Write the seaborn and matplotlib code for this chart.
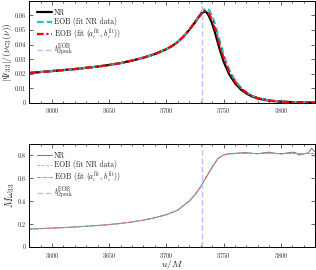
import numpy as np
import pandas as pd
import matplotlib
matplotlib.use("Agg")
import matplotlib.pyplot as plt
from matplotlib.ticker import MultipleLocator
import seaborn as sns

# --- amplitude panel (u/M, |Psi_33|/(nu c3)) ---
u_amp = [3580, 3600, 3620, 3640, 3650, 3660, 3670, 3680, 3690, 3700, 3705, 3710,
         3715, 3720, 3725, 3728, 3731, 3733, 3735, 3737, 3740, 3743, 3746, 3750,
         3755, 3760, 3765, 3770, 3775, 3780, 3790, 3800, 3815, 3830]
amp_nr = [0.0205, 0.0218, 0.0232, 0.0249, 0.0260, 0.0273, 0.0290, 0.0310, 0.0335, 0.0368,
          0.0390, 0.0418, 0.0455, 0.0500, 0.0552, 0.0585, 0.0615, 0.0626, 0.0622, 0.0600,
          0.0545, 0.0470, 0.0385, 0.0285, 0.0195, 0.0135, 0.0093, 0.0064, 0.0044, 0.0030,
          0.0015, 0.0008, 0.0004, 0.0002]
amp_eob_nr = [0.0205, 0.0218, 0.0232, 0.0249, 0.0260, 0.0273, 0.0290, 0.0310, 0.0335, 0.0368,
              0.0390, 0.0418, 0.0455, 0.0502, 0.0555, 0.0590, 0.0625, 0.0640, 0.0648, 0.0640,
              0.0598, 0.0530, 0.0440, 0.0330, 0.0225, 0.0155, 0.0105, 0.0072, 0.0049, 0.0033,
              0.0016, 0.0008, 0.0004, 0.0002]
amp_eob_fit = [0.0205, 0.0218, 0.0232, 0.0249, 0.0260, 0.0273, 0.0290, 0.0310, 0.0335, 0.0368,
               0.0390, 0.0418, 0.0455, 0.0501, 0.0553, 0.0587, 0.0618, 0.0630, 0.0630, 0.0615,
               0.0570, 0.0500, 0.0415, 0.0310, 0.0212, 0.0146, 0.0100, 0.0069, 0.0047, 0.0032,
               0.0016, 0.0008, 0.0004, 0.0002]

# --- frequency panel (u/M, M omega_33) ---
u_freq = [3580, 3600, 3620, 3640, 3650, 3660, 3670, 3680, 3690, 3700, 3710, 3720, 3725,
          3730, 3735, 3740, 3745, 3750, 3755, 3760, 3765, 3770, 3775, 3780, 3785, 3790,
          3795, 3800, 3805, 3810, 3813, 3816, 3820, 3824, 3827, 3830]
om_nr = [0.157, 0.165, 0.175, 0.188, 0.196, 0.206, 0.219, 0.235, 0.256, 0.282, 0.322, 0.400,
         0.455, 0.525, 0.610, 0.695, 0.770, 0.805, 0.815, 0.818, 0.822, 0.824, 0.818, 0.815,
         0.822, 0.828, 0.818, 0.812, 0.820, 0.828, 0.822, 0.803, 0.812, 0.822, 0.862, 0.830]
om_eob_nr = [0.157, 0.165, 0.175, 0.188, 0.196, 0.206, 0.219, 0.235, 0.256, 0.282, 0.324, 0.404,
             0.460, 0.532, 0.618, 0.700, 0.772, 0.803, 0.812, 0.815, 0.817, 0.818, 0.816, 0.814,
             0.816, 0.818, 0.817, 0.815, 0.815, 0.817, 0.817, 0.815, 0.815, 0.816, 0.816, 0.816]
om_eob_fit = [0.157, 0.165, 0.175, 0.188, 0.196, 0.206, 0.219, 0.235, 0.256, 0.282, 0.323, 0.402,
              0.457, 0.528, 0.614, 0.698, 0.771, 0.804, 0.813, 0.816, 0.818, 0.819, 0.816, 0.814,
              0.817, 0.819, 0.817, 0.815, 0.816, 0.818, 0.817, 0.815, 0.816, 0.816, 0.817, 0.816]

t_peak = 3731
labels = ["NR", "EOB (fit NR data)", r"EOB (fit $(a_i^{\rm fit},\, b_i^{\rm fit})$)",
          r"$t^{\rm EOB}_{\Omega{\rm peak}}$"]

sns.set_theme(style="ticks")
plt.rcParams.update({
    "font.family": ["cmr10", "DejaVu Serif"],
    "mathtext.fontset": "cm",
    "axes.formatter.use_mathtext": True,
    "axes.edgecolor": "black",
    "axes.linewidth": 0.7,
    "xtick.direction": "in",
    "ytick.direction": "in",
    "xtick.top": True,
    "ytick.right": True,
    "xtick.major.size": 3,
    "xtick.minor.size": 1.5,
    "ytick.major.size": 3,
    "xtick.major.width": 0.5,
    "xtick.minor.width": 0.5,
    "ytick.major.width": 0.5,
    "xtick.labelsize": 4.5,
    "ytick.labelsize": 4.5,
    "xtick.major.pad": 2.5,
    "ytick.major.pad": 2.5,
})

fig = plt.figure(figsize=(3.16, 2.70), dpi=100)
ax1 = fig.add_axes([0.092, 0.619, 0.905, 0.378])
ax2 = fig.add_axes([0.092, 0.085, 0.905, 0.382])

amp = pd.DataFrame({"u": u_amp, "nr": amp_nr, "eob_nr": amp_eob_nr, "eob_fit": amp_eob_fit})
freq = pd.DataFrame({"u": u_freq, "nr": om_nr, "eob_nr": om_eob_nr, "eob_fit": om_eob_fit})

vcol = (0.74, 0.74, 1.0)

sns.lineplot(data=amp, x="u", y="nr", ax=ax1, color="black", lw=1.6, label=labels[0])
sns.lineplot(data=amp, x="u", y="eob_nr", ax=ax1, color="#20c0c0", lw=1.6,
             linestyle=(0, (3, 1.5)), label=labels[1])
sns.lineplot(data=amp, x="u", y="eob_fit", ax=ax1, color="red", lw=1.6,
             linestyle=(0, (3, 1.2, 1, 1.2)), label=labels[2])
ax1.axvline(t_peak, color=vcol, lw=1.0, linestyle=(0, (4, 2)), label=labels[3])

sns.lineplot(data=freq, x="u", y="nr", ax=ax2, color="0.45", lw=0.7, label=labels[0])
sns.lineplot(data=freq, x="u", y="eob_nr", ax=ax2, color="#60d8d8", lw=0.7,
             linestyle=(0, (3, 1.5)), label=labels[1])
sns.lineplot(data=freq, x="u", y="eob_fit", ax=ax2, color="#f06060", lw=0.7,
             linestyle=(0, (3, 1.2, 1, 1.2)), label=labels[2])
ax2.axvline(t_peak, color=vcol, lw=1.0, linestyle=(0, (4, 2)), label=labels[3])

for ax in (ax1, ax2):
    ax.set_xlim(3580, 3830)
    ax.xaxis.set_major_locator(MultipleLocator(50))
    ax.xaxis.set_minor_locator(MultipleLocator(10))
    ax.legend(loc="upper left", frameon=False, fontsize=5.5, handlelength=2.0,
              handletextpad=0.25, labelspacing=0.05, borderpad=0.2, borderaxespad=0.8)

ax1.set_ylim(0, 0.07)
ax1.set_yticks([0, 0.01, 0.02, 0.03, 0.04, 0.05, 0.06])
ax1.set_yticklabels(["0", "0.01", "0.02", "0.03", "0.04", "0.05", "0.06"])
ax1.set_xlabel("")
ax1.set_ylabel(r"$|\Psi_{33}|/(\nu c_3(\nu))$", fontsize=7, labelpad=0)

ax2.set_ylim(0, 0.9)
ax2.set_yticks([0, 0.2, 0.4, 0.6, 0.8])
ax2.set_yticklabels(["0", "0.2", "0.4", "0.6", "0.8"])
ax2.set_xlabel(r"$u/M$", fontsize=7, labelpad=-1)
ax2.set_ylabel(r"$M\omega_{33}$", fontsize=7.5, labelpad=0)

fig.savefig("out.png", dpi=100)
